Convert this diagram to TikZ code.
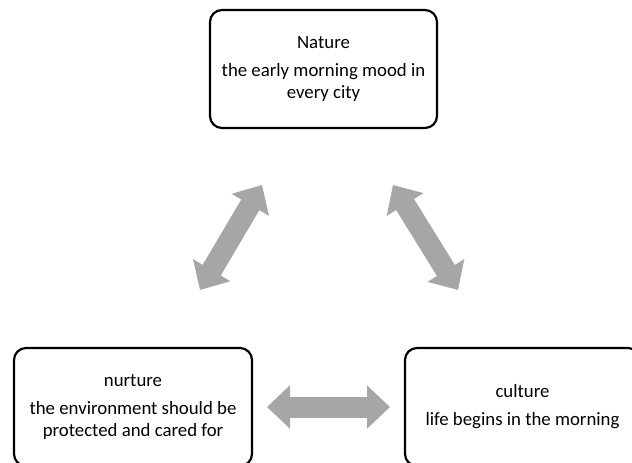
\documentclass[tikz,border=0pt]{standalone}
\usepackage{fontspec}
\setmainfont{Carlito}
\usetikzlibrary{arrows.meta}
\definecolor{arrgray}{RGB}{166,166,166}
\begin{document}
\begin{tikzpicture}[x=1pt,y=-1pt,
  box/.style={draw=black, line width=2.2pt, rounded corners=12pt, fill=white,
    align=center, inner sep=0pt, font=\fontsize{18.8}{22}\selectfont},
  dblarrow/.style={draw=arrgray, line width=21pt,
    {Triangle[length=23pt,width=42pt]}-{Triangle[length=23pt,width=42pt]}}]
\useasboundingbox (0,0) rectangle (632,463);
\node[box, minimum width=227pt, minimum height=118pt] (nature) at (323.5,69)
  {Nature\\[6pt]the early morning mood in\\every city};
\node[box, minimum width=238pt, minimum height=118pt] (nurture) at (133,407)
  {nurture\\[6pt]the environment should be\\protected and cared for};
\node[box, minimum width=235pt, minimum height=118pt] (culture) at (522.5,407)
  {culture\\[6pt]life begins in the morning};
\coordinate (a1) at (262,185);
\coordinate (a2) at (200,290);
\coordinate (b1) at (393,185);
\coordinate (b2) at (458,290);
\coordinate (c1) at (267,407);
\coordinate (c2) at (390,407);
\draw[dblarrow] (a1) -- (a2);
\draw[dblarrow] (b1) -- (b2);
\draw[dblarrow] (c1) -- (c2);
\end{tikzpicture}
\end{document}
